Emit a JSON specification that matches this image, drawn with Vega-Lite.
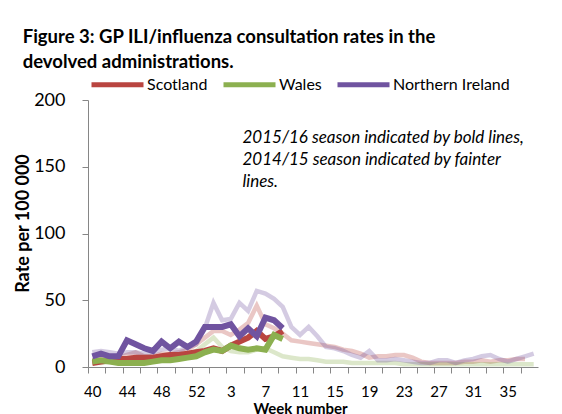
{
  "$schema": "https://vega.github.io/schema/vega-lite/v6.json",
  "width": 450,
  "height": 267,
  "autosize": {"type": "none"},
  "padding": {"left": 88, "top": 100, "right": 24, "bottom": 47},
  "background": "white",
  "config": {"font": "Lato", "view": {"stroke": null}},
  "title": {
    "text": ["Figure 3: GP ILI/influenza consultation rates  in the", "devolved administrations."],
    "anchor": "start",
    "frame": "bounds",
    "fontSize": 18.5,
    "fontWeight": "bold",
    "color": "black",
    "lineHeight": 25,
    "offset": 0,
    "dy": 15,
    "dx": 8
  },
  "data": {
    "values": [
      {"season": "2014/15", "region": "Scotland", "week": "40", "rate": 5},
      {"season": "2014/15", "region": "Scotland", "week": "41", "rate": 6},
      {"season": "2014/15", "region": "Scotland", "week": "42", "rate": 6},
      {"season": "2014/15", "region": "Scotland", "week": "43", "rate": 7},
      {"season": "2014/15", "region": "Scotland", "week": "44", "rate": 9},
      {"season": "2014/15", "region": "Scotland", "week": "45", "rate": 11},
      {"season": "2014/15", "region": "Scotland", "week": "46", "rate": 8},
      {"season": "2014/15", "region": "Scotland", "week": "47", "rate": 8},
      {"season": "2014/15", "region": "Scotland", "week": "48", "rate": 10},
      {"season": "2014/15", "region": "Scotland", "week": "49", "rate": 10},
      {"season": "2014/15", "region": "Scotland", "week": "50", "rate": 11},
      {"season": "2014/15", "region": "Scotland", "week": "51", "rate": 13},
      {"season": "2014/15", "region": "Scotland", "week": "52", "rate": 17},
      {"season": "2014/15", "region": "Scotland", "week": "53", "rate": 22},
      {"season": "2014/15", "region": "Scotland", "week": "1", "rate": 27},
      {"season": "2014/15", "region": "Scotland", "week": "2", "rate": 27},
      {"season": "2014/15", "region": "Scotland", "week": "3", "rate": 24},
      {"season": "2014/15", "region": "Scotland", "week": "4", "rate": 28},
      {"season": "2014/15", "region": "Scotland", "week": "5", "rate": 33},
      {"season": "2014/15", "region": "Scotland", "week": "6", "rate": 46},
      {"season": "2014/15", "region": "Scotland", "week": "7", "rate": 32},
      {"season": "2014/15", "region": "Scotland", "week": "8", "rate": 29},
      {"season": "2014/15", "region": "Scotland", "week": "9", "rate": 25},
      {"season": "2014/15", "region": "Scotland", "week": "10", "rate": 20},
      {"season": "2014/15", "region": "Scotland", "week": "11", "rate": 19},
      {"season": "2014/15", "region": "Scotland", "week": "12", "rate": 18},
      {"season": "2014/15", "region": "Scotland", "week": "13", "rate": 17},
      {"season": "2014/15", "region": "Scotland", "week": "14", "rate": 16},
      {"season": "2014/15", "region": "Scotland", "week": "15", "rate": 15},
      {"season": "2014/15", "region": "Scotland", "week": "16", "rate": 13},
      {"season": "2014/15", "region": "Scotland", "week": "17", "rate": 12},
      {"season": "2014/15", "region": "Scotland", "week": "18", "rate": 10},
      {"season": "2014/15", "region": "Scotland", "week": "19", "rate": 7},
      {"season": "2014/15", "region": "Scotland", "week": "20", "rate": 8},
      {"season": "2014/15", "region": "Scotland", "week": "21", "rate": 8},
      {"season": "2014/15", "region": "Scotland", "week": "22", "rate": 9},
      {"season": "2014/15", "region": "Scotland", "week": "23", "rate": 9},
      {"season": "2014/15", "region": "Scotland", "week": "24", "rate": 7},
      {"season": "2014/15", "region": "Scotland", "week": "25", "rate": 4},
      {"season": "2014/15", "region": "Scotland", "week": "26", "rate": 3},
      {"season": "2014/15", "region": "Scotland", "week": "27", "rate": 3},
      {"season": "2014/15", "region": "Scotland", "week": "28", "rate": 3},
      {"season": "2014/15", "region": "Scotland", "week": "29", "rate": 3},
      {"season": "2014/15", "region": "Scotland", "week": "30", "rate": 4},
      {"season": "2014/15", "region": "Scotland", "week": "31", "rate": 4},
      {"season": "2014/15", "region": "Scotland", "week": "32", "rate": 5},
      {"season": "2014/15", "region": "Scotland", "week": "33", "rate": 4},
      {"season": "2014/15", "region": "Scotland", "week": "34", "rate": 5},
      {"season": "2014/15", "region": "Scotland", "week": "35", "rate": 5},
      {"season": "2014/15", "region": "Scotland", "week": "36", "rate": 6},
      {"season": "2014/15", "region": "Scotland", "week": "37", "rate": 6},
      {"season": "2014/15", "region": "Wales", "week": "40", "rate": 3},
      {"season": "2014/15", "region": "Wales", "week": "41", "rate": 3},
      {"season": "2014/15", "region": "Wales", "week": "42", "rate": 4},
      {"season": "2014/15", "region": "Wales", "week": "43", "rate": 4},
      {"season": "2014/15", "region": "Wales", "week": "44", "rate": 4},
      {"season": "2014/15", "region": "Wales", "week": "45", "rate": 5},
      {"season": "2014/15", "region": "Wales", "week": "46", "rate": 4},
      {"season": "2014/15", "region": "Wales", "week": "47", "rate": 5},
      {"season": "2014/15", "region": "Wales", "week": "48", "rate": 6},
      {"season": "2014/15", "region": "Wales", "week": "49", "rate": 6},
      {"season": "2014/15", "region": "Wales", "week": "50", "rate": 7},
      {"season": "2014/15", "region": "Wales", "week": "51", "rate": 9},
      {"season": "2014/15", "region": "Wales", "week": "52", "rate": 12},
      {"season": "2014/15", "region": "Wales", "week": "53", "rate": 17},
      {"season": "2014/15", "region": "Wales", "week": "1", "rate": 22},
      {"season": "2014/15", "region": "Wales", "week": "2", "rate": 15},
      {"season": "2014/15", "region": "Wales", "week": "3", "rate": 12},
      {"season": "2014/15", "region": "Wales", "week": "4", "rate": 11},
      {"season": "2014/15", "region": "Wales", "week": "5", "rate": 11},
      {"season": "2014/15", "region": "Wales", "week": "6", "rate": 13},
      {"season": "2014/15", "region": "Wales", "week": "7", "rate": 14},
      {"season": "2014/15", "region": "Wales", "week": "8", "rate": 11},
      {"season": "2014/15", "region": "Wales", "week": "9", "rate": 8},
      {"season": "2014/15", "region": "Wales", "week": "10", "rate": 7},
      {"season": "2014/15", "region": "Wales", "week": "11", "rate": 6},
      {"season": "2014/15", "region": "Wales", "week": "12", "rate": 6},
      {"season": "2014/15", "region": "Wales", "week": "13", "rate": 5},
      {"season": "2014/15", "region": "Wales", "week": "14", "rate": 4},
      {"season": "2014/15", "region": "Wales", "week": "15", "rate": 4},
      {"season": "2014/15", "region": "Wales", "week": "16", "rate": 4},
      {"season": "2014/15", "region": "Wales", "week": "17", "rate": 3},
      {"season": "2014/15", "region": "Wales", "week": "18", "rate": 3},
      {"season": "2014/15", "region": "Wales", "week": "19", "rate": 3},
      {"season": "2014/15", "region": "Wales", "week": "20", "rate": 3},
      {"season": "2014/15", "region": "Wales", "week": "21", "rate": 3},
      {"season": "2014/15", "region": "Wales", "week": "22", "rate": 3},
      {"season": "2014/15", "region": "Wales", "week": "23", "rate": 2},
      {"season": "2014/15", "region": "Wales", "week": "24", "rate": 2},
      {"season": "2014/15", "region": "Wales", "week": "25", "rate": 2},
      {"season": "2014/15", "region": "Wales", "week": "26", "rate": 2},
      {"season": "2014/15", "region": "Wales", "week": "27", "rate": 2},
      {"season": "2014/15", "region": "Wales", "week": "28", "rate": 2},
      {"season": "2014/15", "region": "Wales", "week": "29", "rate": 2},
      {"season": "2014/15", "region": "Wales", "week": "30", "rate": 2},
      {"season": "2014/15", "region": "Wales", "week": "31", "rate": 2},
      {"season": "2014/15", "region": "Wales", "week": "32", "rate": 2},
      {"season": "2014/15", "region": "Wales", "week": "33", "rate": 2},
      {"season": "2014/15", "region": "Wales", "week": "34", "rate": 2},
      {"season": "2014/15", "region": "Wales", "week": "35", "rate": 2},
      {"season": "2014/15", "region": "Wales", "week": "36", "rate": 2},
      {"season": "2014/15", "region": "Wales", "week": "37", "rate": 2},
      {"season": "2014/15", "region": "Wales", "week": "38", "rate": 2},
      {"season": "2014/15", "region": "Northern Ireland", "week": "40", "rate": 11},
      {"season": "2014/15", "region": "Northern Ireland", "week": "41", "rate": 12},
      {"season": "2014/15", "region": "Northern Ireland", "week": "42", "rate": 11},
      {"season": "2014/15", "region": "Northern Ireland", "week": "43", "rate": 10},
      {"season": "2014/15", "region": "Northern Ireland", "week": "44", "rate": 11},
      {"season": "2014/15", "region": "Northern Ireland", "week": "45", "rate": 11},
      {"season": "2014/15", "region": "Northern Ireland", "week": "46", "rate": 10},
      {"season": "2014/15", "region": "Northern Ireland", "week": "47", "rate": 11},
      {"season": "2014/15", "region": "Northern Ireland", "week": "48", "rate": 13},
      {"season": "2014/15", "region": "Northern Ireland", "week": "49", "rate": 14},
      {"season": "2014/15", "region": "Northern Ireland", "week": "50", "rate": 12},
      {"season": "2014/15", "region": "Northern Ireland", "week": "51", "rate": 15},
      {"season": "2014/15", "region": "Northern Ireland", "week": "52", "rate": 17},
      {"season": "2014/15", "region": "Northern Ireland", "week": "53", "rate": 29},
      {"season": "2014/15", "region": "Northern Ireland", "week": "1", "rate": 48},
      {"season": "2014/15", "region": "Northern Ireland", "week": "2", "rate": 35},
      {"season": "2014/15", "region": "Northern Ireland", "week": "3", "rate": 36},
      {"season": "2014/15", "region": "Northern Ireland", "week": "4", "rate": 48},
      {"season": "2014/15", "region": "Northern Ireland", "week": "5", "rate": 42},
      {"season": "2014/15", "region": "Northern Ireland", "week": "6", "rate": 57},
      {"season": "2014/15", "region": "Northern Ireland", "week": "7", "rate": 55},
      {"season": "2014/15", "region": "Northern Ireland", "week": "8", "rate": 51},
      {"season": "2014/15", "region": "Northern Ireland", "week": "9", "rate": 45},
      {"season": "2014/15", "region": "Northern Ireland", "week": "10", "rate": 30},
      {"season": "2014/15", "region": "Northern Ireland", "week": "11", "rate": 24},
      {"season": "2014/15", "region": "Northern Ireland", "week": "12", "rate": 30},
      {"season": "2014/15", "region": "Northern Ireland", "week": "13", "rate": 23},
      {"season": "2014/15", "region": "Northern Ireland", "week": "14", "rate": 15},
      {"season": "2014/15", "region": "Northern Ireland", "week": "15", "rate": 14},
      {"season": "2014/15", "region": "Northern Ireland", "week": "16", "rate": 12},
      {"season": "2014/15", "region": "Northern Ireland", "week": "17", "rate": 9},
      {"season": "2014/15", "region": "Northern Ireland", "week": "18", "rate": 7},
      {"season": "2014/15", "region": "Northern Ireland", "week": "19", "rate": 12},
      {"season": "2014/15", "region": "Northern Ireland", "week": "20", "rate": 5},
      {"season": "2014/15", "region": "Northern Ireland", "week": "21", "rate": 5},
      {"season": "2014/15", "region": "Northern Ireland", "week": "22", "rate": 6},
      {"season": "2014/15", "region": "Northern Ireland", "week": "23", "rate": 5},
      {"season": "2014/15", "region": "Northern Ireland", "week": "24", "rate": 4},
      {"season": "2014/15", "region": "Northern Ireland", "week": "25", "rate": 3},
      {"season": "2014/15", "region": "Northern Ireland", "week": "26", "rate": 3},
      {"season": "2014/15", "region": "Northern Ireland", "week": "27", "rate": 5},
      {"season": "2014/15", "region": "Northern Ireland", "week": "28", "rate": 5},
      {"season": "2014/15", "region": "Northern Ireland", "week": "29", "rate": 3},
      {"season": "2014/15", "region": "Northern Ireland", "week": "30", "rate": 5},
      {"season": "2014/15", "region": "Northern Ireland", "week": "31", "rate": 6},
      {"season": "2014/15", "region": "Northern Ireland", "week": "32", "rate": 8},
      {"season": "2014/15", "region": "Northern Ireland", "week": "33", "rate": 9},
      {"season": "2014/15", "region": "Northern Ireland", "week": "34", "rate": 6},
      {"season": "2014/15", "region": "Northern Ireland", "week": "35", "rate": 4},
      {"season": "2014/15", "region": "Northern Ireland", "week": "36", "rate": 6},
      {"season": "2014/15", "region": "Northern Ireland", "week": "37", "rate": 8},
      {"season": "2014/15", "region": "Northern Ireland", "week": "38", "rate": 10},
      {"season": "2015/16", "region": "Scotland", "week": "40", "rate": 3},
      {"season": "2015/16", "region": "Scotland", "week": "41", "rate": 4},
      {"season": "2015/16", "region": "Scotland", "week": "42", "rate": 5},
      {"season": "2015/16", "region": "Scotland", "week": "43", "rate": 6},
      {"season": "2015/16", "region": "Scotland", "week": "44", "rate": 6},
      {"season": "2015/16", "region": "Scotland", "week": "45", "rate": 7},
      {"season": "2015/16", "region": "Scotland", "week": "46", "rate": 7},
      {"season": "2015/16", "region": "Scotland", "week": "47", "rate": 7},
      {"season": "2015/16", "region": "Scotland", "week": "48", "rate": 8},
      {"season": "2015/16", "region": "Scotland", "week": "49", "rate": 9},
      {"season": "2015/16", "region": "Scotland", "week": "50", "rate": 9},
      {"season": "2015/16", "region": "Scotland", "week": "51", "rate": 10},
      {"season": "2015/16", "region": "Scotland", "week": "52", "rate": 11},
      {"season": "2015/16", "region": "Scotland", "week": "53", "rate": 12},
      {"season": "2015/16", "region": "Scotland", "week": "1", "rate": 14},
      {"season": "2015/16", "region": "Scotland", "week": "2", "rate": 12},
      {"season": "2015/16", "region": "Scotland", "week": "3", "rate": 16},
      {"season": "2015/16", "region": "Scotland", "week": "4", "rate": 19},
      {"season": "2015/16", "region": "Scotland", "week": "5", "rate": 22},
      {"season": "2015/16", "region": "Scotland", "week": "6", "rate": 27},
      {"season": "2015/16", "region": "Scotland", "week": "7", "rate": 21},
      {"season": "2015/16", "region": "Scotland", "week": "8", "rate": 23},
      {"season": "2015/16", "region": "Scotland", "week": "9", "rate": 27},
      {"season": "2015/16", "region": "Wales", "week": "40", "rate": 4},
      {"season": "2015/16", "region": "Wales", "week": "41", "rate": 5},
      {"season": "2015/16", "region": "Wales", "week": "42", "rate": 4},
      {"season": "2015/16", "region": "Wales", "week": "43", "rate": 3},
      {"season": "2015/16", "region": "Wales", "week": "44", "rate": 3},
      {"season": "2015/16", "region": "Wales", "week": "45", "rate": 3},
      {"season": "2015/16", "region": "Wales", "week": "46", "rate": 3},
      {"season": "2015/16", "region": "Wales", "week": "47", "rate": 4},
      {"season": "2015/16", "region": "Wales", "week": "48", "rate": 5},
      {"season": "2015/16", "region": "Wales", "week": "49", "rate": 5},
      {"season": "2015/16", "region": "Wales", "week": "50", "rate": 6},
      {"season": "2015/16", "region": "Wales", "week": "51", "rate": 7},
      {"season": "2015/16", "region": "Wales", "week": "52", "rate": 8},
      {"season": "2015/16", "region": "Wales", "week": "53", "rate": 11},
      {"season": "2015/16", "region": "Wales", "week": "1", "rate": 13},
      {"season": "2015/16", "region": "Wales", "week": "2", "rate": 12},
      {"season": "2015/16", "region": "Wales", "week": "3", "rate": 16},
      {"season": "2015/16", "region": "Wales", "week": "4", "rate": 14},
      {"season": "2015/16", "region": "Wales", "week": "5", "rate": 13},
      {"season": "2015/16", "region": "Wales", "week": "6", "rate": 14},
      {"season": "2015/16", "region": "Wales", "week": "7", "rate": 13},
      {"season": "2015/16", "region": "Wales", "week": "8", "rate": 24},
      {"season": "2015/16", "region": "Wales", "week": "9", "rate": 21},
      {"season": "2015/16", "region": "Northern Ireland", "week": "40", "rate": 8},
      {"season": "2015/16", "region": "Northern Ireland", "week": "41", "rate": 10},
      {"season": "2015/16", "region": "Northern Ireland", "week": "42", "rate": 8},
      {"season": "2015/16", "region": "Northern Ireland", "week": "43", "rate": 8},
      {"season": "2015/16", "region": "Northern Ireland", "week": "44", "rate": 20},
      {"season": "2015/16", "region": "Northern Ireland", "week": "45", "rate": 17},
      {"season": "2015/16", "region": "Northern Ireland", "week": "46", "rate": 14},
      {"season": "2015/16", "region": "Northern Ireland", "week": "47", "rate": 12},
      {"season": "2015/16", "region": "Northern Ireland", "week": "48", "rate": 19},
      {"season": "2015/16", "region": "Northern Ireland", "week": "49", "rate": 14},
      {"season": "2015/16", "region": "Northern Ireland", "week": "50", "rate": 19},
      {"season": "2015/16", "region": "Northern Ireland", "week": "51", "rate": 15},
      {"season": "2015/16", "region": "Northern Ireland", "week": "52", "rate": 19},
      {"season": "2015/16", "region": "Northern Ireland", "week": "53", "rate": 30},
      {"season": "2015/16", "region": "Northern Ireland", "week": "1", "rate": 30},
      {"season": "2015/16", "region": "Northern Ireland", "week": "2", "rate": 30},
      {"season": "2015/16", "region": "Northern Ireland", "week": "3", "rate": 32},
      {"season": "2015/16", "region": "Northern Ireland", "week": "4", "rate": 23},
      {"season": "2015/16", "region": "Northern Ireland", "week": "5", "rate": 29},
      {"season": "2015/16", "region": "Northern Ireland", "week": "6", "rate": 23},
      {"season": "2015/16", "region": "Northern Ireland", "week": "7", "rate": 37},
      {"season": "2015/16", "region": "Northern Ireland", "week": "8", "rate": 35},
      {"season": "2015/16", "region": "Northern Ireland", "week": "9", "rate": 29}
    ]
  },
  "layer": [
    {
      "transform": [{"filter": "datum.season === '2014/15'"}],
      "mark": {"type": "line", "strokeWidth": 4.5, "opacity": 0.3},
      "encoding": {
        "x": {
          "field": "week",
          "type": "ordinal",
          "scale": {
            "type": "point",
            "padding": 0.5,
            "domain": ["40","41","42","43","44","45","46","47","48","49","50","51","52","53","1","2","3","4","5","6","7","8","9","10","11","12","13","14","15","16","17","18","19","20","21","22","23","24","25","26","27","28","29","30","31","32","33","34","35","36","37","38"]
          },
          "axis": {
            "title": "Week number",
            "titleFontSize": 15,
            "titleFontWeight": "bold",
            "titleColor": "black",
            "titlePadding": 2,
            "titleX": 212,
            "labelFontSize": 15,
            "labelColor": "black",
            "labelAngle": 0,
            "labelPadding": 11,
            "labelOverlap": false,
            "labelFlush": false,
            "values": ["40","42","44","46","48","50","52","1","3","5","7","9","11","13","15","17","19","21","23","25","27","29","31","33","35","37"],
            "labelExpr": "indexof(['40','44','48','52','3','7','11','15','19','23','27','31','35'], datum.value) >= 0 ? datum.label : ''",
            "tickOffset": -4.33,
            "labelOffset": 4.33,
            "tickSize": 6,
            "tickColor": "#868686",
            "domainColor": "#868686",
            "grid": false
          }
        },
        "y": {
          "field": "rate",
          "type": "quantitative",
          "scale": {"domain": [0, 200]},
          "axis": {
            "title": "Rate per 100 000",
            "titleFontSize": 18,
            "titleFontWeight": "bold",
            "titleColor": "black",
            "titlePadding": 1,
            "titleY": 123,
            "values": [0, 50, 100, 150, 200],
            "labelFontSize": 18,
            "labelColor": "black",
            "labelPadding": 17,
            "tickSize": 6,
            "tickColor": "#868686",
            "domainColor": "#868686",
            "grid": false
          }
        },
        "color": {
          "field": "region",
          "type": "nominal",
          "scale": {"domain": ["Scotland", "Wales", "Northern Ireland"], "range": ["#B94540", "#8CB050", "#7054A0"]},
          "legend": {
            "orient": "none",
            "legendX": 1,
            "legendY": -44,
            "direction": "horizontal",
            "title": null,
            "padding": 0,
            "symbolType": "stroke",
            "symbolSize": 2704,
            "symbolStrokeWidth": 5,
            "symbolOpacity": 1,
            "labelFontSize": 16,
            "labelColor": "black",
            "labelOffset": 1,
            "columnPadding": 5
          }
        },
        "order": {"value": null}
      }
    },
    {
      "transform": [{"filter": "datum.season === '2015/16'"}],
      "mark": {"type": "line", "strokeWidth": 6},
      "encoding": {
        "x": {"field": "week", "type": "ordinal"},
        "y": {"field": "rate", "type": "quantitative"},
        "color": {"field": "region", "type": "nominal"},
        "order": {"value": null}
      }
    },
    {
      "transform": [{"filter": "datum.season === '2015/16' && datum.region === 'Wales' && datum.week === '4'"}],
      "mark": {
        "type": "text",
        "align": "left",
        "baseline": "alphabetic",
        "fontStyle": "italic",
        "fontSize": 17,
        "lineHeight": 22,
        "dx": 3,
        "fill": "black",
        "opacity": 1
      },
      "encoding": {
        "x": {"datum": "4", "type": "ordinal"},
        "y": {"datum": 168, "type": "quantitative"},
        "text": {"value": ["2015/16 season indicated by bold lines,", "2014/15 season indicated by fainter", "lines."]}
      }
    }
  ]
}
